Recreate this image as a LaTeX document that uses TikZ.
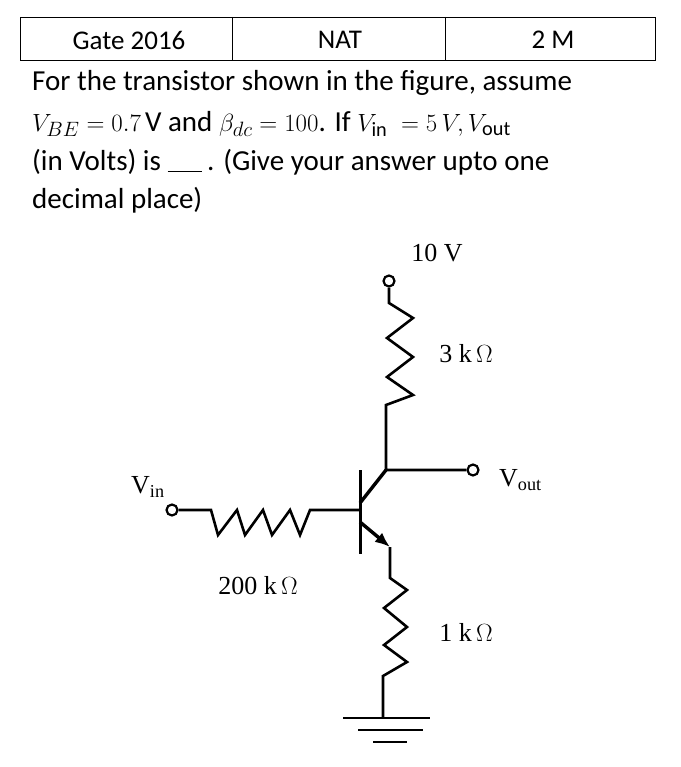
\documentclass[tikz,border=0pt]{standalone}
\usepackage{fontspec}
\usetikzlibrary{arrows.meta}
\setmainfont{Carlito}
\newfontfamily\cirfont{Liberation Serif}
\begin{document}
\begin{tikzpicture}[x=1pt,y=-1pt,
  wire/.style={line width=2.6pt,line join=miter},
  term/.style={circle,draw,line width=2.2pt,inner sep=0pt,minimum size=11pt,fill=white},
  lbl/.style={font=\cirfont\fontsize{26}{30}\selectfont,inner sep=0pt},
  qtext/.style={font=\fontsize{29}{34}\selectfont,anchor=west,inner sep=0pt}]
\useasboundingbox (0,0) rectangle (680,767);
% header table
\draw[line width=0.8pt] (20,17) rectangle (655,60) (232,17) -- (232,60) (445,17) -- (445,60);
\node[font=\fontsize{27}{30}\selectfont] (h1) at (129,40) {Gate 2016};
\node[font=\fontsize{27}{30}\selectfont] (h2) at (340,40) {NAT};
\node[font=\fontsize{27}{30}\selectfont] (h3) at (553,40) {2 M};
\node[qtext] (t1) at (32,83) {For the transistor shown in the figure, assume};
\node[qtext] (t2) at (32,124) {$V_{BE}=0.7\,\mathrm{V}$ and $\beta_{dc}=100$. If $V_{\mathrm{in}}\;=5\,V, V_{\mathrm{out}}$};
\node[qtext] (t3) at (32,162) {(in Volts) is \underline{\hspace{1.2em}}\,. (Give your answer upto one};
\node[qtext] (t4) at (32,200) {decimal place)};
% circuit
\node[term] (vcc) at (389,281) {};
\node[term] (vo) at (473,470) {};
\node[term] (vi) at (172,510) {};
\coordinate (cj) at (386,470);
\coordinate (bb) at (360,510);
\coordinate (ee) at (390,547);
\coordinate (gnd) at (383,718);
\draw[wire] (vcc.south) -- (389,303) -- (413,318) -- (387,338) -- (413,357) -- (387,377) -- (413,395) -- (386,405) -- (cj) -- (vo.west);
\draw[wire] (vi.east) -- (211,510) -- (218,535) -- (237,510) -- (245,535) -- (263,510) -- (272,535) -- (290,510) -- (300,535) -- (310,510) -- (bb);
\draw[line width=3pt] (360,470) -- (360,554);
\draw[line width=3.4pt] (360,503) -- (cj);
\draw[line width=3.4pt,-{Latex[length=15pt,width=12pt]}] (360,522) -- (ee);
\draw[wire] (ee) -- (390,578) -- (407,590) -- (384,608) -- (407,627) -- (384,645) -- (407,662) -- (383,676) -- (gnd);
\draw[line width=1.5pt] (343,718) -- (430,718) (358,730) -- (423,730) (373,742) -- (407,742);
\node[lbl] (l10) at (437,253) {10 V};
\node[lbl] (l3k) at (466,354) {3 k\,$\Omega$};
\node[lbl] (lvo) at (499,480) [anchor=west] {V\textsubscript{out}};
\node[lbl] (lvi) at (131,487) [anchor=west] {V\textsubscript{in}};
\node[lbl] (l200) at (258,586) {200 k\,$\Omega$};
\node[lbl] (l1k) at (466,632) {1 k\,$\Omega$};
\end{tikzpicture}
\end{document}
